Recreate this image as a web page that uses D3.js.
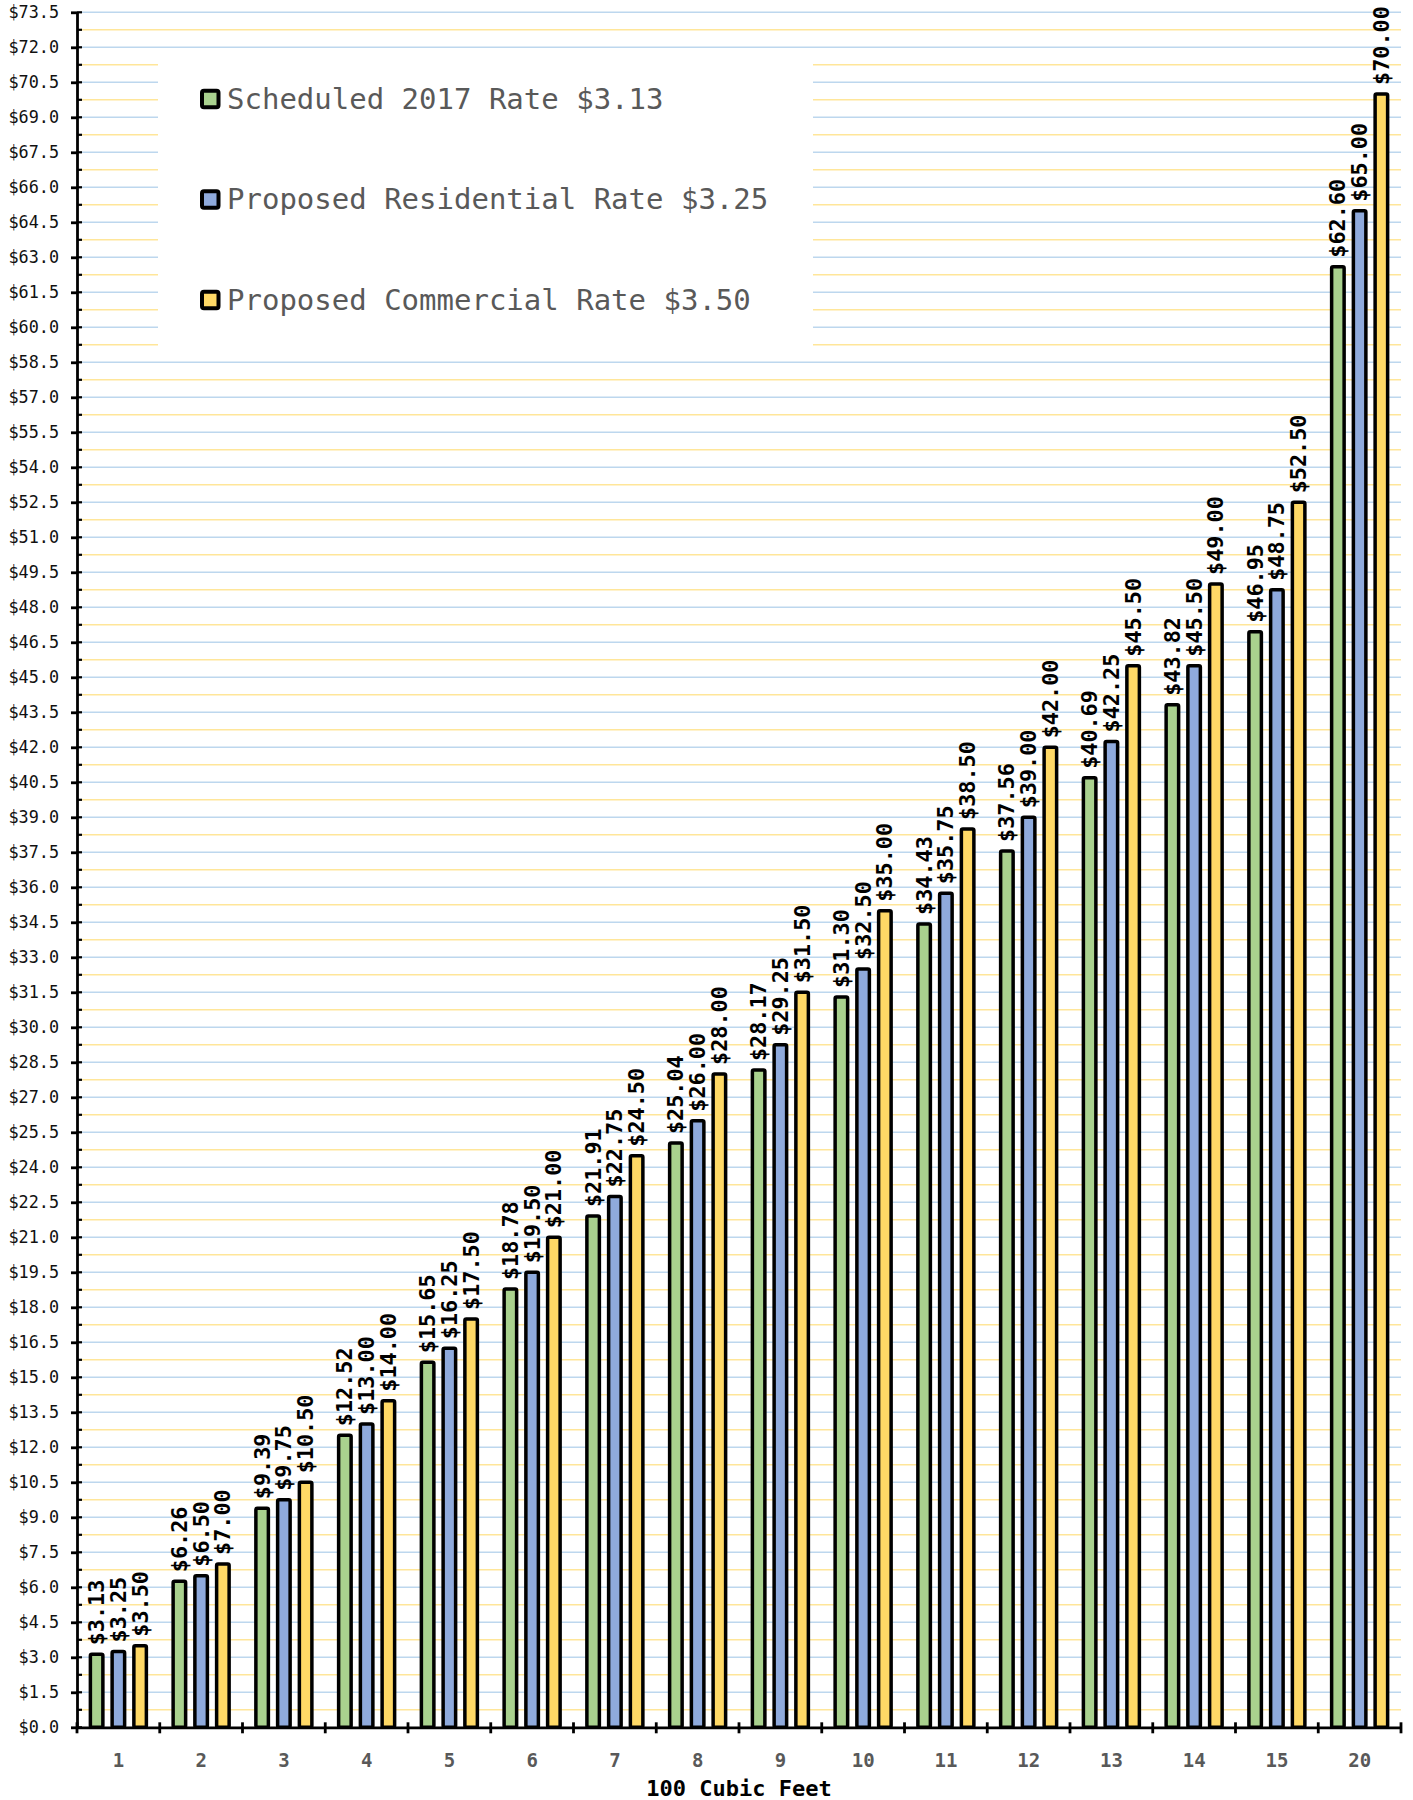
<!DOCTYPE html>
<html>
<head>
<meta charset="utf-8">
<script src="https://cdn.jsdelivr.net/npm/d3@7"></script>
<style>
    body { margin: 0; background: #fff; }
    svg { display: block; }
</style>
</head>
<body>
<div id="chart"></div>
<script>
// Water bill by usage (hundreds of cubic feet) for the three rates
const categories = ["1", "2", "3", "4", "5", "6", "7", "8", "9", "10", "11", "12", "13", "14", "15", "20"];
const scheduled2017 = [3.13, 6.26, 9.39, 12.52, 15.65, 18.78, 21.91, 25.04, 28.17, 31.30, 34.43, 37.56, 40.69, 43.82, 46.95, 62.60];
const residential = [3.25, 6.50, 9.75, 13.00, 16.25, 19.50, 22.75, 26.00, 29.25, 32.50, 35.75, 39.00, 42.25, 45.50, 48.75, 65.00];
const commercial = [3.50, 7.00, 10.50, 14.00, 17.50, 21.00, 24.50, 28.00, 31.50, 35.00, 38.50, 42.00, 45.50, 49.00, 52.50, 70.00];
const seriesNames = ["Scheduled 2017 Rate $3.13", "Proposed Residential Rate $3.25", "Proposed Commercial Rate $3.50"];
const seriesColors = ["#a9d18e", "#8faadc", "#ffd966"];
const yMax = 73.5;
const xTitle = "100 Cubic Feet";

const width = 1413, height = 1800;
const plotLeft = 77, plotRight = 1401, plotTop = 12.3, plotBottom = 1727.3;
const mono = "'DejaVu Sans Mono', 'Liberation Mono', monospace";

const series = [scheduled2017, residential, commercial];
const rows = categories.map((c, i) => ({cat: c, values: series.map(s => s[i])}));

const x0 = d3.scaleBand().domain(categories).range([plotLeft, plotRight]).padding(0);
const bw = x0.bandwidth();
const x1 = d3.scaleBand().domain([0, 1, 2])
    .range([bw / 2 - 28, bw / 2 + 28])
    .paddingInner(0.425);
const y = d3.scaleLinear().domain([0, yMax]).range([plotBottom, plotTop]);

const majorTicks = d3.range(0, yMax + 0.001, 1.5);
const minorTicks = d3.range(0.75, yMax, 1.5);

const svg = d3.select("#chart")
    .append("svg")
    .attr("width", width)
    .attr("height", height);

// grid lines: blue on the labelled ticks, yellow in between
svg.append("g")
    .selectAll("line")
    .data(minorTicks)
    .join("line")
    .attr("x1", plotLeft).attr("x2", plotRight)
    .attr("y1", d => y(d)).attr("y2", d => y(d))
    .attr("stroke", "#ffe699")
    .attr("stroke-width", 1.5);

svg.append("g")
    .selectAll("line")
    .data(majorTicks.filter(d => d > 0))
    .join("line")
    .attr("x1", plotLeft).attr("x2", plotRight)
    .attr("y1", d => y(d)).attr("y2", d => y(d))
    .attr("stroke", "#bdd7ee")
    .attr("stroke-width", 1.5);

// legend box hides the grid behind it
svg.append("rect")
    .attr("x", 158).attr("y", 52)
    .attr("width", 655).attr("height", 302)
    .attr("fill", "#fff");

const legend = svg.append("g")
    .selectAll("g")
    .data(seriesNames)
    .join("g")
    .attr("transform", (d, i) => `translate(0, ${99 + i * 100.5})`);

legend.append("rect")
    .attr("x", 202).attr("y", -8.25)
    .attr("width", 16.5).attr("height", 16.5)
    .attr("rx", 2)
    .attr("fill", (d, i) => seriesColors[i])
    .attr("stroke", "#000")
    .attr("stroke-width", 4);

legend.append("text")
    .attr("x", 227)
    .attr("y", 9.5)
    .attr("font-family", mono)
    .attr("font-size", 29)
    .attr("fill", "#595959")
    .text(d => d);

// bars
const group = svg.append("g")
    .selectAll("g")
    .data(rows)
    .join("g")
    .attr("transform", d => `translate(${x0(d.cat)},0)`);

group.selectAll("rect")
    .data(d => d.values)
    .join("rect")
    .attr("x", (d, i) => x1(i))
    .attr("y", d => y(d))
    .attr("width", x1.bandwidth())
    .attr("height", d => plotBottom - y(d))
    .attr("rx", 1.5)
    .attr("fill", (d, i) => seriesColors[i])
    .attr("stroke", "#000")
    .attr("stroke-width", 3.5);

group.selectAll("text")
    .data(d => d.values)
    .join("text")
    .attr("transform", (d, i) => `translate(${x1(i) + x1.bandwidth() / 2},${y(d) - 9}) rotate(-90)`)
    .attr("dy", "0.34em")
    .attr("font-family", mono)
    .attr("font-weight", "bold")
    .attr("font-size", 21.8)
    .attr("fill", "#000")
    .text(d => "$" + d.toFixed(2));

// y axis
const yAxis = svg.append("g")
    .attr("transform", `translate(${plotLeft},0)`)
    .call(d3.axisLeft(y)
        .tickValues(majorTicks)
        .tickFormat(d => "$" + d.toFixed(1))
        .tickSizeInner(6)
        .tickSizeOuter(0)
        .tickPadding(12));

yAxis.select(".domain").attr("stroke", "#000").attr("stroke-width", 2.8);
yAxis.selectAll(".tick line").attr("stroke", "#000").attr("stroke-width", 2.8);
yAxis.selectAll(".tick text")
    .attr("font-family", mono)
    .attr("font-size", 16.8)
    .attr("fill", "#111");

yAxis.append("g")
    .selectAll("line")
    .data(majorTicks.concat(minorTicks))
    .join("line")
    .attr("x1", 0).attr("x2", 5)
    .attr("y1", d => y(d)).attr("y2", d => y(d))
    .attr("stroke", "#000")
    .attr("stroke-width", 2.2);

// x axis: labels centred, ticks on group boundaries
const xAxis = svg.append("g")
    .attr("transform", `translate(0,${plotBottom})`)
    .call(d3.axisBottom(x0).tickSize(0).tickPadding(26));

xAxis.select(".domain").attr("stroke", "#000").attr("stroke-width", 2.8);
xAxis.selectAll(".tick text")
    .attr("font-family", mono)
    .attr("font-weight", "bold")
    .attr("font-size", 19)
    .attr("fill", "#595959");

xAxis.append("g")
    .selectAll("line")
    .data(d3.range(categories.length + 1))
    .join("line")
    .attr("x1", i => plotLeft + i * x0.step())
    .attr("x2", i => plotLeft + i * x0.step())
    .attr("y1", -5).attr("y2", 6)
    .attr("stroke", "#000")
    .attr("stroke-width", 2.8);

svg.append("text")
    .attr("x", (plotLeft + plotRight) / 2)
    .attr("y", 1796)
    .attr("text-anchor", "middle")
    .attr("font-family", mono)
    .attr("font-weight", "bold")
    .attr("font-size", 22)
    .attr("fill", "#000")
    .text(xTitle);
</script>
</body>
</html>
